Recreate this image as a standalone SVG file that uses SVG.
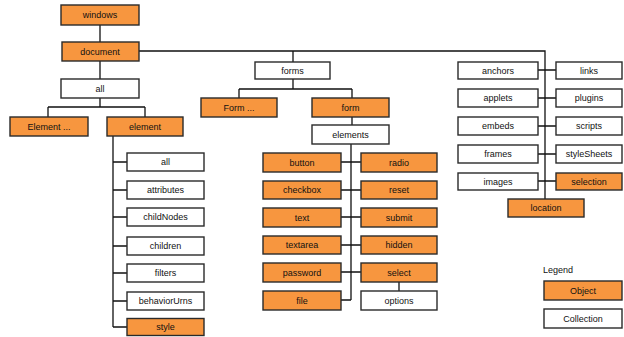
<svg xmlns="http://www.w3.org/2000/svg" width="624" height="337" viewBox="0 0 624 337">
  <style>
    .obj { fill: #F7963F; stroke: #2a2a2a; stroke-width: 1.4; }
    .col { fill: #ffffff; stroke: #2a2a2a; stroke-width: 1.4; }
    .lbl { font-family: "Liberation Sans", Arial, sans-serif; font-size: 9px; fill: #111; text-anchor: middle; dominant-baseline: central; }
    .conn { fill: none; stroke: #111; stroke-width: 1.3; }
  </style>
  <rect width="624" height="337" fill="#ffffff"/>

  <!-- connectors -->
  <g id="connectors" class="conn">
    <path d="M100 25 V42 M100 61 V79"/>
    <path d="M100 98 V107 M48 107 H145 M48 107 V117 M145 107 V117"/>
    <path d="M113 136 V327 M113 162 H127 M113 190 H127 M113 217 H127 M113 246 H127 M113 273 H127 M113 301 H127 M113 327 H127"/>
    <path d="M139 51 H545 V199 M293 51 V62"/>
    <path d="M293 79 V89 M239 89 H352 M239 89 V98 M352 89 V98 M352 117 V125"/>
    <path d="M351 144 V300 M341 162 H361 M341 190 H361 M341 217 H361 M341 245 H361 M341 272 H361 M341 300 H351 M399 282 V291"/>
    <path d="M538 70 H556 M538 98 H556 M538 126 H556 M538 154 H556 M538 181 H556"/>
  </g>

  <!-- main chain -->
  <g id="windows"><rect class="obj" x="61" y="5" width="78" height="20"/><text class="lbl" x="100" y="15">windows</text></g>
  <g id="document"><rect class="obj" x="62" y="42" width="77" height="19"/><text class="lbl" x="100" y="51.5">document</text></g>
  <g id="all"><rect class="col" x="61" y="79" width="78" height="19"/><text class="lbl" x="100" y="88.5">all</text></g>
  <g id="element-collection"><rect class="obj" x="10" y="117" width="78" height="19"/><text class="lbl" x="49" y="126.5">Element ...</text></g>
  <g id="element"><rect class="obj" x="107" y="117" width="76" height="19"/><text class="lbl" x="145" y="126.5">element</text></g>

  <!-- element members -->
  <g id="element-all"><rect class="col" x="127" y="153" width="77" height="18"/><text class="lbl" x="165.5" y="162">all</text></g>
  <g id="attributes"><rect class="col" x="127" y="181" width="77" height="18"/><text class="lbl" x="165.5" y="190">attributes</text></g>
  <g id="childNodes"><rect class="col" x="127" y="208" width="77" height="18"/><text class="lbl" x="165.5" y="217">childNodes</text></g>
  <g id="children"><rect class="col" x="127" y="237" width="77" height="18"/><text class="lbl" x="165.5" y="246">children</text></g>
  <g id="filters"><rect class="col" x="127" y="264" width="77" height="18"/><text class="lbl" x="165.5" y="273">filters</text></g>
  <g id="behaviorUrns"><rect class="col" x="127" y="292" width="77" height="18"/><text class="lbl" x="165.5" y="301">behaviorUrns</text></g>
  <g id="style"><rect class="obj" x="127" y="318.5" width="77" height="17"/><text class="lbl" x="165.5" y="327">style</text></g>

  <!-- forms branch -->
  <g id="forms"><rect class="col" x="255" y="62" width="75" height="17"/><text class="lbl" x="292.5" y="70.5">forms</text></g>
  <g id="form-collection"><rect class="obj" x="201" y="98" width="76" height="19"/><text class="lbl" x="239" y="107.5">Form ...</text></g>
  <g id="form"><rect class="obj" x="312" y="98" width="77" height="19"/><text class="lbl" x="350.5" y="107.5">form</text></g>
  <g id="elements"><rect class="col" x="312" y="125" width="77" height="19"/><text class="lbl" x="350.5" y="134.5">elements</text></g>

  <g id="button"><rect class="obj" x="263" y="153" width="78" height="19"/><text class="lbl" x="302" y="162.5">button</text></g>
  <g id="checkbox"><rect class="obj" x="263" y="181" width="78" height="18"/><text class="lbl" x="302" y="190">checkbox</text></g>
  <g id="text"><rect class="obj" x="263" y="208" width="78" height="19"/><text class="lbl" x="302" y="217.5">text</text></g>
  <g id="textarea"><rect class="obj" x="263" y="236" width="78" height="18"/><text class="lbl" x="302" y="245">textarea</text></g>
  <g id="password"><rect class="obj" x="263" y="263" width="78" height="19"/><text class="lbl" x="302" y="272.5">password</text></g>
  <g id="file"><rect class="obj" x="263" y="291" width="78" height="19"/><text class="lbl" x="302" y="300.5">file</text></g>

  <g id="radio"><rect class="obj" x="361" y="153" width="76" height="19"/><text class="lbl" x="399" y="162.5">radio</text></g>
  <g id="reset"><rect class="obj" x="361" y="181" width="76" height="18"/><text class="lbl" x="399" y="190">reset</text></g>
  <g id="submit"><rect class="obj" x="361" y="208" width="76" height="19"/><text class="lbl" x="399" y="217.5">submit</text></g>
  <g id="hidden"><rect class="obj" x="361" y="236" width="76" height="18"/><text class="lbl" x="399" y="245">hidden</text></g>
  <g id="select"><rect class="obj" x="361" y="263" width="76" height="19"/><text class="lbl" x="399" y="272.5">select</text></g>
  <g id="options"><rect class="col" x="361" y="291" width="76" height="19"/><text class="lbl" x="399" y="300.5">options</text></g>

  <!-- document collections -->
  <g id="anchors"><rect class="col" x="458" y="62" width="80" height="17"/><text class="lbl" x="498" y="70.5">anchors</text></g>
  <g id="applets"><rect class="col" x="458" y="89" width="80" height="18"/><text class="lbl" x="498" y="98">applets</text></g>
  <g id="embeds"><rect class="col" x="458" y="117" width="80" height="18"/><text class="lbl" x="498" y="126">embeds</text></g>
  <g id="frames"><rect class="col" x="458" y="145" width="80" height="18"/><text class="lbl" x="498" y="154">frames</text></g>
  <g id="images"><rect class="col" x="458" y="173" width="80" height="17"/><text class="lbl" x="498" y="181.5">images</text></g>

  <g id="links"><rect class="col" x="556" y="62" width="66" height="17"/><text class="lbl" x="589" y="70.5">links</text></g>
  <g id="plugins"><rect class="col" x="556" y="89" width="66" height="18"/><text class="lbl" x="589" y="98">plugins</text></g>
  <g id="scripts"><rect class="col" x="556" y="117" width="66" height="18"/><text class="lbl" x="589" y="126">scripts</text></g>
  <g id="styleSheets"><rect class="col" x="556" y="145" width="66" height="18"/><text class="lbl" x="589" y="154">styleSheets</text></g>
  <g id="selection"><rect class="obj" x="556" y="173" width="66" height="17"/><text class="lbl" x="589" y="181.5">selection</text></g>

  <g id="location"><rect class="obj" x="508" y="199" width="76" height="18"/><text class="lbl" x="546" y="208">location</text></g>

  <!-- legend -->
  <g id="legend">
    <text class="lbl" x="543" y="270" style="text-anchor:start">Legend</text>
    <rect class="obj" x="544" y="281" width="78" height="19"/><text class="lbl" x="583" y="290.5">Object</text>
    <rect class="col" x="544" y="309" width="78" height="19"/><text class="lbl" x="583" y="318.5">Collection</text>
  </g>
</svg>
